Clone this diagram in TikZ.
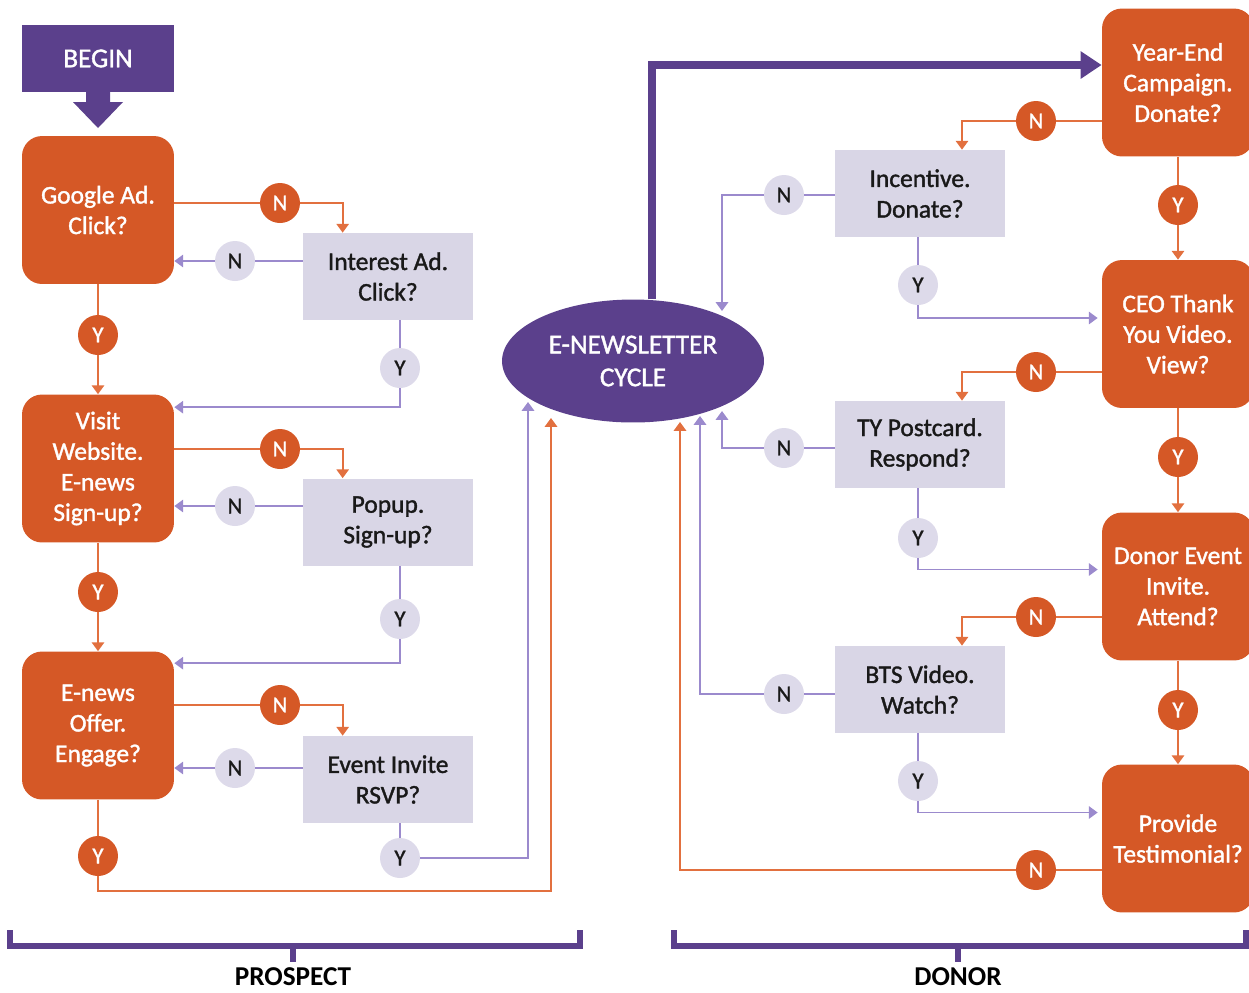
\documentclass[tikz,border=0pt]{standalone}
\usepackage{fontspec}
\setmainfont{Carlito}
\newfontface\semib{Carlito}[FakeBold=1.4]
\usetikzlibrary{calc,arrows.meta,shapes.geometric}

\definecolor{dorange}{HTML}{D55826}
\definecolor{lorange}{HTML}{E2703F}
\definecolor{dpurple}{HTML}{5B408C}
\definecolor{lpurple}{HTML}{9B8ACD}
\definecolor{boxgray}{HTML}{D9D6E6}
\definecolor{circgray}{HTML}{DDDAEA}

\begin{document}
\begin{tikzpicture}[x=0.02cm, y=-0.02cm,
  every node/.style={font=\semib\fontsize{14.5}{17.4}\selectfont, align=center, inner sep=0pt},
  obox/.style={fill=dorange, text=white, rounded corners=0.4cm, minimum width=3.04cm, minimum height=2.96cm},
  gbox/.style={fill=boxgray, text=black!90, minimum width=3.4cm, minimum height=1.74cm},
  ocirc/.style={circle, fill=dorange, text=white, minimum size=0.8cm, font=\semib\fontsize{13}{15}\selectfont},
  gcirc/.style={circle, fill=circgray, text=black!90, minimum size=0.8cm, font=\semib\fontsize{13}{15}\selectfont},
  oline/.style={draw=lorange, line width=1.1pt},
  pline/.style={draw=lpurple, line width=1.1pt},
  tip/.style={-{Triangle[width=7pt,length=5pt]}},
  brace/.style={draw=dpurple, line width=3.2pt}]

  \useasboundingbox (0,0) rectangle (1249,992);
  \clip (0,0) rectangle (1249,992);

  % ---- 左侧: prospect ----
  \node[fill=dpurple, text=white, minimum width=3.04cm, minimum height=1.34cm,
        font=\semib\fontsize{15.5}{18}\selectfont] (begin) at (98,58.5) {BEGIN};
  \fill[dpurple] (86,92) -- (110,92) -- (110,102) -- (123,102) -- (98,128)
                 -- (73,102) -- (86,102) -- cycle;

  \node[obox] (google) at (98,210)   {Google Ad.\\Click?};
  \node[obox] (visit)  at (98,468.5) {Visit\\Website.\\E-news\\Sign-up?};
  \node[obox] (enews)  at (98,725.5) {E-news\\Offer.\\Engage?};

  \node[gbox] (interest) at (388,276.5) {Interest Ad.\\Click?};
  \node[gbox] (popup)    at (388,522)   {Popup.\\Sign-up?};
  \node[gbox] (event)    at (388,779.5) {Event Invite\\RSVP?};

  \node[ocirc] (oyl1) at (98,335) {Y};
  \node[ocirc] (oyl2) at (98,592) {Y};
  \node[ocirc] (oyl3) at (98,856) {Y};
  \node[ocirc] (onl1) at (280,203) {N};
  \node[ocirc] (onl2) at (280,449) {N};
  \node[ocirc] (onl3) at (280,705) {N};
  \node[gcirc] (gnl1) at (235,261) {N};
  \node[gcirc] (gnl2) at (235,506) {N};
  \node[gcirc] (gnl3) at (235,768) {N};
  \node[gcirc] (gyl1) at (400,368) {Y};
  \node[gcirc] (gyl2) at (400,619) {Y};
  \node[gcirc] (gyl3) at (400,858) {Y};

  % ---- 中间: e-newsletter ----
  \node[ellipse, fill=dpurple, text=white, minimum width=5.24cm, minimum height=2.46cm,
        font=\semib\fontsize{15.5}{18.7}\selectfont] (enl) at (633,361) {E-NEWSLETTER\\CYCLE};

  % 进入椭圆的箭头端点
  \coordinate (ein1) at (551,418);
  \coordinate (ein2) at (528,402);
  \coordinate (ein3) at (722,311);
  \coordinate (ein4) at (722,411);
  \coordinate (ein5) at (700,416);
  \coordinate (ein6) at (680,422);
  \coordinate (bot)  at (551,891);
  \coordinate (top)  at (652,65);

  % ---- 右侧: donor ----
  \node[obox] (yearend) at (1178,82.5)  {Year-End\\Campaign.\\Donate?};
  \node[obox] (ceo)     at (1178,334)   {CEO Thank\\You Video.\\View?};
  \node[obox] (donor)   at (1178,586.5) {Donor Event\\Invite.\\Attend?};
  \node[obox] (testi)   at (1178,838.5) {Provide\\Testimonial?};

  \node[gbox] (incentive) at (920,193.5) {Incentive.\\Donate?};
  \node[gbox] (typost)    at (920,444.5) {TY Postcard.\\Respond?};
  \node[gbox] (bts)       at (920,689.5) {BTS Video.\\Watch?};

  \node[ocirc] (oyr1) at (1178,205) {Y};
  \node[ocirc] (oyr2) at (1178,457) {Y};
  \node[ocirc] (oyr3) at (1178,710) {Y};
  \node[ocirc] (onr1) at (1036,121) {N};
  \node[ocirc] (onr2) at (1036,372) {N};
  \node[ocirc] (onr3) at (1036,617) {N};
  \node[ocirc] (onr4) at (1036,870) {N};
  \node[gcirc] (gnr1) at (784,195) {N};
  \node[gcirc] (gnr2) at (784,448) {N};
  \node[gcirc] (gnr3) at (784,694) {N};
  \node[gcirc] (gyr1) at (918,285) {Y};
  \node[gcirc] (gyr2) at (918,538) {Y};
  \node[gcirc] (gyr3) at (918,781) {Y};

  % ---- 连线: 左侧 ----
  \draw[oline] (google.south) -- (oyl1);
  \draw[oline, tip] (oyl1) -- (visit.north);
  \draw[oline] (visit.south) -- (oyl2);
  \draw[oline, tip] (oyl2) -- (enews.north);
  \draw[oline] (enews.south) -- (oyl3);
  \draw[oline, tip] (oyl3) |- (bot) -- (ein1);

  \draw[oline] (onl1 -| google.east) -- (onl1);
  \draw[oline, tip] (onl1) -| ($(interest.north west)+(40,0)$);
  \draw[oline] (onl2 -| visit.east) -- (onl2);
  \draw[oline, tip] (onl2) -| ($(popup.north west)+(40,0)$);
  \draw[oline] (onl3 -| enews.east) -- (onl3);
  \draw[oline, tip] (onl3) -| ($(event.north west)+(40,0)$);

  \draw[pline] (gnl1 -| interest.west) -- (gnl1);
  \draw[pline, tip] (gnl1) -- (gnl1 -| google.east);
  \draw[pline] (gnl2 -| popup.west) -- (gnl2);
  \draw[pline, tip] (gnl2) -- (gnl2 -| visit.east);
  \draw[pline] (gnl3 -| event.west) -- (gnl3);
  \draw[pline, tip] (gnl3) -- (gnl3 -| enews.east);

  \draw[pline] (interest.south -| gyl1) -- (gyl1);
  \draw[pline, tip] (gyl1) |- ($(visit.north east)+(0,13)$);
  \draw[pline] (popup.south -| gyl2) -- (gyl2);
  \draw[pline, tip] (gyl2) |- ($(enews.north east)+(0,12)$);
  \draw[pline] (event.south -| gyl3) -- (gyl3);
  \draw[pline, tip] (gyl3) -| (ein2);

  % ---- 连线: 椭圆 -> Year-End ----
  \draw[dpurple, line width=4pt, -{Triangle[width=15pt,length=12pt]}]
    (enl.north -| top) -- (top) -- (top -| yearend.west);

  % ---- 连线: 右侧 ----
  \draw[oline] (yearend.south) -- (oyr1);
  \draw[oline, tip] (oyr1) -- (ceo.north);
  \draw[oline] (ceo.south) -- (oyr2);
  \draw[oline, tip] (oyr2) -- (donor.north);
  \draw[oline] (donor.south) -- (oyr3);
  \draw[oline, tip] (oyr3) -- (testi.north);

  \draw[oline] (onr1 -| yearend.west) -- (onr1);
  \draw[oline, tip] (onr1) -| ($(incentive.north)+(42,0)$);
  \draw[oline] (onr2 -| ceo.west) -- (onr2);
  \draw[oline, tip] (onr2) -| ($(typost.north)+(42,0)$);
  \draw[oline] (onr3 -| donor.west) -- (onr3);
  \draw[oline, tip] (onr3) -| ($(bts.north)+(42,0)$);
  \draw[oline] (onr4 -| testi.west) -- (onr4);
  \draw[oline, tip] (onr4) -| (ein6);

  \draw[pline] (gnr1 -| incentive.west) -- (gnr1);
  \draw[pline, tip] (gnr1) -| (ein3);
  \draw[pline] (gnr2 -| typost.west) -- (gnr2);
  \draw[pline, tip] (gnr2) -| (ein4);
  \draw[pline] (gnr3 -| bts.west) -- (gnr3);
  \draw[pline, tip] (gnr3) -| (ein5);

  \draw[pline] (incentive.south -| gyr1) -- (gyr1);
  \draw[pline, tip] (gyr1) |- ($(ceo.west)+(-4,-16)$);
  \draw[pline] (typost.south -| gyr2) -- (gyr2);
  \draw[pline, tip] (gyr2) |- ($(donor.west)+(-4,-17)$);
  \draw[pline] (bts.south -| gyr3) -- (gyr3);
  \draw[pline, tip] (gyr3) |- ($(testi.west)+(-4,-26)$);

  % ---- 底部括号 ----
  \draw[brace] (10,930) -- (10,946) -- (580,946) -- (580,930);
  \draw[brace] (293,946) -- (293,962);
  \draw[brace] (674,930) -- (674,946) -- (1246,946) -- (1246,930);
  \draw[brace] (958,946) -- (958,962);
  \node[anchor=base, font=\bfseries\fontsize{15.5}{18}\selectfont] (prospect) at (293,985) {PROSPECT};
  \node[anchor=base, font=\bfseries\fontsize{15.5}{18}\selectfont] (donorlbl) at (958,985) {DONOR};

\end{tikzpicture}
\end{document}
